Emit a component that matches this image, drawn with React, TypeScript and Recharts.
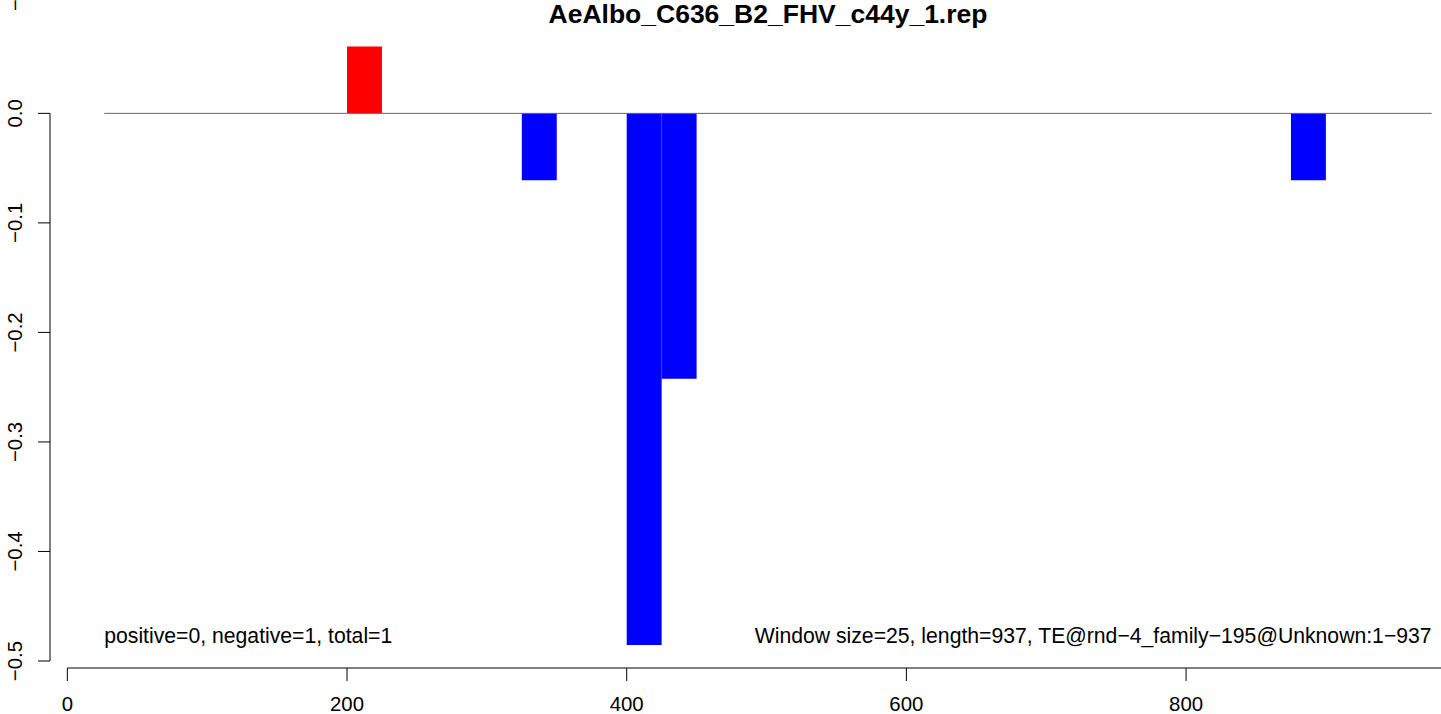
import React from 'react';
import { ComposedChart, Bar, Cell, XAxis, YAxis, ReferenceLine, ReferenceDot } from 'recharts';

// windows of 25 bp along the TE, value per window
const windowStart = [200, 325, 400, 425, 875];
const windowValue = [0.061, -0.061, -0.4854, -0.2423, -0.061];
const windowSize = 25;

const xTicks = [0, 200, 400, 600, 800];
const yTicks = [0, -0.1, -0.2, -0.3, -0.4, -0.5];

// reference line at y = 0 spans this x range
const zeroLineRange = [26.4, 975.6];

const titleText = 'AeAlbo_C636_B2_FHV_c44y_1.rep';
const leftNote = 'positive=0, negative=1, total=1';
const rightNote = 'Window size=25, length=937, TE@rnd\u22124_family\u2212195@Unknown:1\u2212937';
const noteY = -0.484;

const xDomain: [number, number] = [-12.4, 982.3];
const yDomain: [number, number] = [-0.5064, 0.1035];

const W = 1441;
const H = 714;
const yAxisW = 50;
const xAxisH = 46;
const font = '"Liberation Sans", Arial, sans-serif';

const data = windowStart.map((s, i) => ({
  mid: s + windowSize / 2,
  value: windowValue[i],
}));

// a hair under the band size, otherwise recharts falls back to 90% of the band
const barPx = (windowSize * (W - yAxisW)) / (xDomain[1] - xDomain[0]) - 0.02;

const fmt = (v: number) => v.toFixed(1).replace('-', '\u2212');

const XTick = ({ x, y, payload }: any) => (
  <text x={x} y={y} dy={28} textAnchor="middle" fontSize={20.4} fontFamily={font} fill="#000">
    {payload.value}
  </text>
);

const YTick = ({ x, y, payload }: any) => {
  const bx = x - 14;
  return (
    <text
      x={bx}
      y={y}
      transform={`rotate(-90 ${bx} ${y})`}
      textAnchor="middle"
      fontSize={20.4}
      fontFamily={font}
      fill="#000"
    >
      {fmt(payload.value)}
    </text>
  );
};

const noteLabel = (text: string, anchor: 'start' | 'end') => (props: any) => {
  const vb = props.viewBox;
  const cx = vb.x + vb.width / 2;
  const cy = vb.y + vb.height / 2;
  return (
    <text x={cx} y={cy} textAnchor={anchor} fontSize={21.2} fontFamily={font} fill="#000">
      {text}
    </text>
  );
};

export default function App() {
  return (
    <div style={{ position: 'absolute', left: 0, top: 0, width: W, height: H, background: '#fff', fontFamily: font }}>
      <div
        style={{
          position: 'absolute',
          left: 468,
          top: 1,
          width: 600,
          textAlign: 'center',
          fontSize: 26.5,
          lineHeight: '26px',
          fontWeight: 'bold',
          color: '#000',
        }}
      >
        {titleText}
      </div>
      <ComposedChart
        width={W}
        height={H}
        data={data}
        margin={{ top: 0, right: 0, bottom: 0, left: 0 }}
        barCategoryGap={0}
        barGap={0}
      >
        <XAxis
          type="number"
          dataKey="mid"
          domain={xDomain}
          allowDataOverflow
          ticks={xTicks}
          interval={0}
          axisLine={false}
          tickLine={{ stroke: '#000', strokeWidth: 1 }}
          tickSize={13}
          height={xAxisH}
          tick={<XTick />}
        />
        <YAxis
          type="number"
          domain={yDomain}
          allowDataOverflow
          ticks={yTicks}
          interval={0}
          axisLine={false}
          tickLine={{ stroke: '#000', strokeWidth: 1 }}
          tickSize={12}
          width={yAxisW}
          tick={<YTick />}
          label={{
            content: () => (
              <text
                x={22}
                y={11}
                transform="rotate(-90 22 11)"
                textAnchor="start"
                fontSize={20}
                fontFamily={font}
                fill="#000"
              >
                {'\u2212'}
              </text>
            ),
          }}
        />
        <Bar dataKey="value" barSize={barPx} isAnimationActive={false}>
          {data.map((d, i) => (
            <Cell key={i} fill={d.value > 0 ? '#FF0000' : '#0000FF'} />
          ))}
        </Bar>
        <ReferenceLine
          segment={[{ x: zeroLineRange[0], y: 0 }, { x: zeroLineRange[1], y: 0 }]}
          stroke="#666666"
          strokeWidth={1}
        />
        {/* R-style axis lines: only span the tick range */}
        <ReferenceLine
          segment={[{ x: xDomain[0], y: yTicks[0] }, { x: xDomain[0], y: yTicks[yTicks.length - 1] }]}
          stroke="#000"
          strokeWidth={1}
          ifOverflow="visible"
        />
        <ReferenceLine
          segment={[{ x: xTicks[0], y: yDomain[0] }, { x: xDomain[1], y: yDomain[0] }]}
          stroke="#000"
          strokeWidth={1}
          ifOverflow="visible"
        />
        <ReferenceDot x={zeroLineRange[0]} y={noteY} r={1} fill="none" stroke="none" label={{ content: noteLabel(leftNote, 'start') }} />
        <ReferenceDot x={zeroLineRange[1]} y={noteY} r={1} fill="none" stroke="none" label={{ content: noteLabel(rightNote, 'end') }} />
      </ComposedChart>
    </div>
  );
}
